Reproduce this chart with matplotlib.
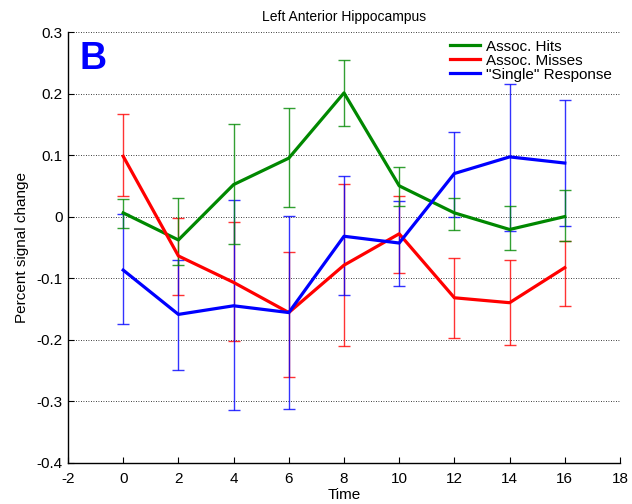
import matplotlib
matplotlib.use("Agg")
import matplotlib.pyplot as plt
import numpy as np

plt.rcParams['font.family'] = ['Liberation Sans', 'DejaVu Sans']
plt.rcParams['axes.unicode_minus'] = False

time = [0, 2, 4, 6, 8, 10, 12, 14, 16]

hits = [0.006, -0.038, 0.052, 0.095, 0.201, 0.050, 0.006, -0.021, 0.000]
hits_hi = [0.029, 0.030, 0.150, 0.176, 0.254, 0.081, 0.030, 0.018, 0.043]
hits_lo = [-0.019, -0.078, -0.045, 0.015, 0.147, 0.017, -0.022, -0.055, -0.040]

misses = [0.098, -0.064, -0.107, -0.156, -0.079, -0.028, -0.132, -0.140, -0.083]
misses_hi = [0.166, -0.002, -0.009, -0.057, 0.053, 0.034, -0.068, -0.071, -0.040]
misses_lo = [0.034, -0.127, -0.202, -0.260, -0.211, -0.091, -0.198, -0.208, -0.145]

single = [-0.087, -0.159, -0.145, -0.156, -0.032, -0.043, 0.070, 0.097, 0.087]
single_hi = [0.004, -0.071, 0.027, 0.001, 0.066, 0.026, 0.138, 0.215, 0.189]
single_lo = [-0.175, -0.249, -0.315, -0.312, -0.127, -0.113, 0.000, -0.024, -0.015]

labels = ['Assoc. Hits', 'Assoc. Misses', '"Single" Response']
colors = ['#008800', '#ff0000', '#0000ff']

fig = plt.figure(figsize=(6.32, 5.04), dpi=100)
ax = fig.add_axes([0.1076, 0.082, 0.8734, 0.8545])

series = [(hits, hits_lo, hits_hi), (misses, misses_lo, misses_hi), (single, single_lo, single_hi)]

# error bars: red, blue, green
for idx in [1, 2, 0]:
    y, lo, hi = series[idx]
    y = np.array(y); lo = np.array(lo); hi = np.array(hi)
    ax.errorbar(time, y, yerr=[y - lo, hi - y], fmt='none', ecolor=colors[idx],
                elinewidth=1.0, capsize=4, capthick=1.0, alpha=0.8, zorder=2)

for idx in [0, 1, 2]:
    y = series[idx][0]
    ax.plot(time, y, color=colors[idx], lw=2.3, label=labels[idx], zorder=3)

ax.set_xlim(-2, 18)
ax.set_ylim(-0.4, 0.3)
ax.set_xticks(np.arange(-2, 19, 2))
ax.set_yticks(np.round(np.arange(-0.4, 0.31, 0.1), 1))
ax.set_yticklabels(['-0.4', '-0.3', '-0.2', '-0.1', '0', '0.1', '0.2', '0.3'])
ax.yaxis.grid(True, linestyle=(0, (1, 2)), color='black', lw=0.6)
ax.set_axisbelow(True)
for s in ['top', 'right']:
    ax.spines[s].set_visible(False)
for s in ['left', 'bottom']:
    ax.spines[s].set_color('black')
    ax.spines[s].set_linewidth(1.0)
ax.tick_params(direction='in', length=4, labelsize=11, colors='black')
ax.tick_params(axis='x', pad=7)
ax.tick_params(axis='y', pad=4)

ax.set_xlabel('Time', fontsize=11, labelpad=1)
ax.set_ylabel('Percent signal change', fontsize=11, labelpad=5)
ax.set_title('Left Anterior Hippocampus', fontsize=10, pad=8)

ax.text(0.02, 0.979, 'B', transform=ax.transAxes, color='#0000ff', fontsize=27,
        fontweight='bold', va='top', ha='left')

leg = ax.legend(loc='upper right', frameon=False, fontsize=11, handlelength=2.0,
                labelspacing=0.0, borderaxespad=0.1, handletextpad=0.4,
                bbox_to_anchor=(1.0, 1.0))

fig.savefig('out.png', dpi=100)
